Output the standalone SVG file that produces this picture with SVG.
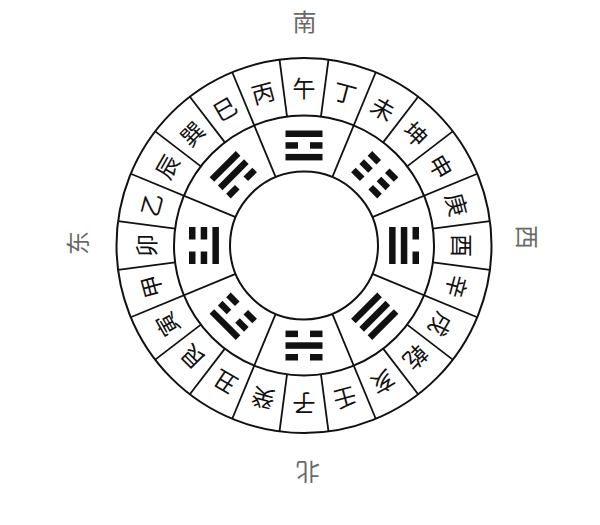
<svg xmlns="http://www.w3.org/2000/svg" xmlns:xlink="http://www.w3.org/1999/xlink" width="600" height="525" viewBox="0 0 600 525">
<style>
.ring{fill:none;stroke:#111;stroke-width:2}
.div{stroke:#111;stroke-width:1.8}
.bar{fill:#111}
.m{font-family:"Noto Sans CJK SC","Noto Sans CJK TC",sans-serif;font-size:23px;fill:#111;text-anchor:middle;dominant-baseline:central}
.d{font-family:"Noto Sans CJK SC",sans-serif;font-size:24px;fill:#6a6a6a;text-anchor:middle;dominant-baseline:central}
</style>
<defs>
<rect id="sO" class="bar" x="285.5" y="130.5" width="37" height="6.5"/>
<g id="bO"><rect class="bar" x="285.5" y="130.5" width="12.5" height="6.5"/><rect class="bar" x="310" y="130.5" width="12.5" height="6.5"/></g>
<rect id="sM" class="bar" x="285.5" y="142.2" width="37" height="6.5"/>
<g id="bM"><rect class="bar" x="285.5" y="142.2" width="12.5" height="6.5"/><rect class="bar" x="310" y="142.2" width="12.5" height="6.5"/></g>
<rect id="sI" class="bar" x="285.5" y="153.9" width="37" height="6.5"/>
<g id="bI"><rect class="bar" x="285.5" y="153.9" width="12.5" height="6.5"/><rect class="bar" x="310" y="153.9" width="12.5" height="6.5"/></g>
</defs>
<rect width="600" height="525" fill="#fff"/>

<g id="rings">
<circle class="ring" cx="304" cy="245.5" r="187.5"/>
<circle class="ring" cx="304" cy="245.5" r="130"/>
<circle class="ring" cx="304" cy="245.5" r="74"/>
</g>

<g id="dividers">
<line class="div" x1="304" y1="115.5" x2="304" y2="58" transform="rotate(7.5 304 245.5)"/>
<line class="div" x1="304" y1="171.5" x2="304" y2="58" transform="rotate(22.5 304 245.5)"/>
<line class="div" x1="304" y1="115.5" x2="304" y2="58" transform="rotate(37.5 304 245.5)"/>
<line class="div" x1="304" y1="115.5" x2="304" y2="58" transform="rotate(52.5 304 245.5)"/>
<line class="div" x1="304" y1="171.5" x2="304" y2="58" transform="rotate(67.5 304 245.5)"/>
<line class="div" x1="304" y1="115.5" x2="304" y2="58" transform="rotate(82.5 304 245.5)"/>
<line class="div" x1="304" y1="115.5" x2="304" y2="58" transform="rotate(97.5 304 245.5)"/>
<line class="div" x1="304" y1="171.5" x2="304" y2="58" transform="rotate(112.5 304 245.5)"/>
<line class="div" x1="304" y1="115.5" x2="304" y2="58" transform="rotate(127.5 304 245.5)"/>
<line class="div" x1="304" y1="115.5" x2="304" y2="58" transform="rotate(142.5 304 245.5)"/>
<line class="div" x1="304" y1="171.5" x2="304" y2="58" transform="rotate(157.5 304 245.5)"/>
<line class="div" x1="304" y1="115.5" x2="304" y2="58" transform="rotate(172.5 304 245.5)"/>
<line class="div" x1="304" y1="115.5" x2="304" y2="58" transform="rotate(187.5 304 245.5)"/>
<line class="div" x1="304" y1="171.5" x2="304" y2="58" transform="rotate(202.5 304 245.5)"/>
<line class="div" x1="304" y1="115.5" x2="304" y2="58" transform="rotate(217.5 304 245.5)"/>
<line class="div" x1="304" y1="115.5" x2="304" y2="58" transform="rotate(232.5 304 245.5)"/>
<line class="div" x1="304" y1="171.5" x2="304" y2="58" transform="rotate(247.5 304 245.5)"/>
<line class="div" x1="304" y1="115.5" x2="304" y2="58" transform="rotate(262.5 304 245.5)"/>
<line class="div" x1="304" y1="115.5" x2="304" y2="58" transform="rotate(277.5 304 245.5)"/>
<line class="div" x1="304" y1="171.5" x2="304" y2="58" transform="rotate(292.5 304 245.5)"/>
<line class="div" x1="304" y1="115.5" x2="304" y2="58" transform="rotate(307.5 304 245.5)"/>
<line class="div" x1="304" y1="115.5" x2="304" y2="58" transform="rotate(322.5 304 245.5)"/>
<line class="div" x1="304" y1="171.5" x2="304" y2="58" transform="rotate(337.5 304 245.5)"/>
<line class="div" x1="304" y1="115.5" x2="304" y2="58" transform="rotate(352.5 304 245.5)"/>
</g>

<g id="trigrams">
<g id="li" transform="rotate(0 304 245.5)"><use xlink:href="#sO"/><use xlink:href="#bM"/><use xlink:href="#sI"/></g>
<g id="kun" transform="rotate(45 304 245.5)"><use xlink:href="#bO"/><use xlink:href="#bM"/><use xlink:href="#bI"/></g>
<g id="dui" transform="rotate(90 304 245.5)"><use xlink:href="#bO"/><use xlink:href="#sM"/><use xlink:href="#sI"/></g>
<g id="qian" transform="rotate(135 304 245.5)"><use xlink:href="#sO"/><use xlink:href="#sM"/><use xlink:href="#sI"/></g>
<g id="kan" transform="rotate(180 304 245.5)"><use xlink:href="#bO"/><use xlink:href="#sM"/><use xlink:href="#bI"/></g>
<g id="gen" transform="rotate(225 304 245.5)"><use xlink:href="#sO"/><use xlink:href="#bM"/><use xlink:href="#bI"/></g>
<g id="zhen" transform="rotate(270 304 245.5)"><use xlink:href="#bO"/><use xlink:href="#bM"/><use xlink:href="#sI"/></g>
<g id="xun" transform="rotate(315 304 245.5)"><use xlink:href="#sO"/><use xlink:href="#sM"/><use xlink:href="#bI"/></g>
</g>

<g id="mountains">
<text class="m" x="304" y="86.5" transform="rotate(0 304 245.5)">午</text>
<text class="m" x="304" y="86.5" transform="rotate(15 304 245.5)">丁</text>
<text class="m" x="304" y="86.5" transform="rotate(30 304 245.5)">未</text>
<text class="m" x="304" y="86.5" transform="rotate(45 304 245.5)">坤</text>
<text class="m" x="304" y="86.5" transform="rotate(60 304 245.5)">申</text>
<text class="m" x="304" y="86.5" transform="rotate(75 304 245.5)">庚</text>
<text class="m" x="304" y="86.5" transform="rotate(90 304 245.5)">酉</text>
<text class="m" x="304" y="86.5" transform="rotate(105 304 245.5)">辛</text>
<text class="m" x="304" y="86.5" transform="rotate(120 304 245.5)">戌</text>
<text class="m" x="304" y="86.5" transform="rotate(135 304 245.5)">乾</text>
<text class="m" x="304" y="86.5" transform="rotate(150 304 245.5)">亥</text>
<text class="m" x="304" y="86.5" transform="rotate(165 304 245.5)">壬</text>
<text class="m" x="304" y="86.5" transform="rotate(180 304 245.5)">子</text>
<text class="m" x="304" y="86.5" transform="rotate(195 304 245.5)">癸</text>
<text class="m" x="304" y="86.5" transform="rotate(210 304 245.5)">丑</text>
<text class="m" x="304" y="86.5" transform="rotate(225 304 245.5)">艮</text>
<text class="m" x="304" y="86.5" transform="rotate(240 304 245.5)">寅</text>
<text class="m" x="304" y="86.5" transform="rotate(255 304 245.5)">甲</text>
<text class="m" x="304" y="86.5" transform="rotate(270 304 245.5)">卯</text>
<text class="m" x="304" y="86.5" transform="rotate(285 304 245.5)">乙</text>
<text class="m" x="304" y="86.5" transform="rotate(300 304 245.5)">辰</text>
<text class="m" x="304" y="86.5" transform="rotate(315 304 245.5)">巽</text>
<text class="m" x="304" y="86.5" transform="rotate(330 304 245.5)">巳</text>
<text class="m" x="304" y="86.5" transform="rotate(345 304 245.5)">丙</text>
</g>

<g id="directions">
<text class="d" x="304.5" y="20">南</text>
<text class="d" x="528.5" y="237" transform="rotate(90 528.5 237)">西</text>
<text class="d" x="308" y="473" transform="rotate(180 308 473)">北</text>
<text class="d" x="76" y="243" transform="rotate(-90 76 243)">东</text>
</g>
</svg>
